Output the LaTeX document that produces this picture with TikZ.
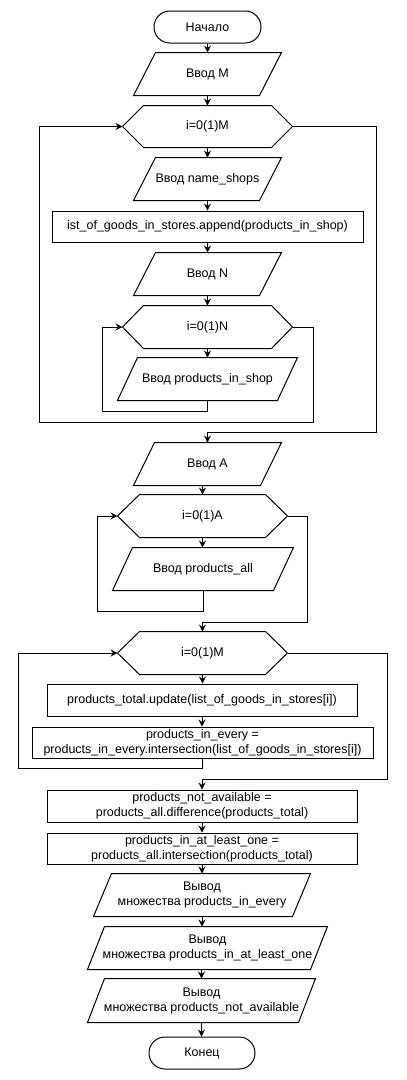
\documentclass[tikz,border=0pt]{standalone}
\usepackage{fontspec}
\setmainfont{Liberation Sans}
\usetikzlibrary{arrows.meta,calc}
\tikzset{
  base/.style={inner sep=0pt, align=center, font=\fontsize{12.5}{15}\selectfont},
  term/.style={base, draw, rounded corners=15.9pt, minimum width=107pt, minimum height=32pt},
  proc/.style={base, draw, minimum height=31pt},
  iobox/.style={base, minimum height=42pt},
  hexbox/.style={base, minimum height=42pt},
  conn/.style={-{Stealth[length=7pt,width=7pt,inset=2.5pt]}},
}
\newcommand\ioshape[2]{%
  \draw ($(#1.north west)+(#2,0)$) -- (#1.north east) -- ($(#1.south east)-(#2,0)$) -- (#1.south west) -- cycle;}
\newcommand\hexshape[2]{%
  \draw (#1.west) -- ($(#1.north west)+(#2,0)$) -- ($(#1.north east)-(#2,0)$) -- (#1.east) -- ($(#1.south east)-(#2,0)$) -- ($(#1.south west)+(#2,0)$) -- cycle;}
\begin{document}
\begin{tikzpicture}[x=1pt,y=-1pt,line width=1pt]
\useasboundingbox (0,0) rectangle (407,1080);
\fill[white] (0,0) rectangle (407,1080);

\node[term] (start) at (207.5,27) {Начало};
\node[iobox, minimum width=147pt] (inM) at (207.5,74) {Ввод M}; \ioshape{inM}{22}
\node[hexbox, minimum width=169pt, minimum height=41pt] (h1) at (207.5,126.5) {i=0(1)M}; \hexshape{h1}{21}
\node[iobox, minimum width=147pt] (inName) at (207.5,179) {Ввод name\_shops}; \ioshape{inName}{22}
\node[proc, minimum width=311pt] (app) at (207.5,226.5) {ist\_of\_goods\_in\_stores.append(products\_in\_shop)};
\node[iobox, minimum width=147pt] (inN) at (207.5,274) {Ввод N}; \ioshape{inN}{22}
\node[hexbox, minimum width=169pt] (h2) at (207.5,327) {i=0(1)N}; \hexshape{h2}{21}
\node[iobox, minimum width=179pt] (inShop) at (207.5,379) {Ввод products\_in\_shop}; \ioshape{inShop}{20}
\node[iobox, minimum width=147pt] (inA) at (207.5,464) {Ввод A}; \ioshape{inA}{21}
\node[hexbox, minimum width=169pt] (hA) at (202.5,516) {i=0(1)A}; \hexshape{hA}{22}
\node[iobox, minimum width=180pt] (inAll) at (203,569) {Ввод products\_all}; \ioshape{inAll}{20}
\node[hexbox, minimum width=169pt] (hM) at (202.5,653) {i=0(1)M}; \hexshape{hM}{22}
\node[proc, minimum width=310pt, minimum height=32pt] (upd) at (202,700) {products\_total.update(list\_of\_goods\_in\_stores[i])};
\node[proc, minimum width=341pt] (every) at (202.5,742.5) {products\_in\_every =\\products\_in\_every.intersection(list\_of\_goods\_in\_stores[i])};
\node[proc, minimum width=310pt, minimum height=32pt] (na) at (202,806) {products\_not\_available =\\products\_all.difference(products\_total)};
\node[proc, minimum width=310pt] (al) at (202,848.5) {products\_in\_at\_least\_one =\\products\_all.intersection(products\_total)};
\node[iobox, minimum width=216pt] (o1) at (202,895) {Вывод\\множества products\_in\_every}; \ioshape{o1}{18}
\node[iobox, minimum width=239pt] (o2) at (207.5,948) {Вывод\\множества products\_in\_at\_least\_one}; \ioshape{o2}{17}
\node[iobox, minimum width=227pt, minimum height=43pt] (o3) at (201.5,1000.5) {Вывод\\множества products\_not\_available}; \ioshape{o3}{17}
\node[term, minimum width=106pt] (end) at (202,1053) {Конец};

\coordinate (cInL) at (102,411);
\coordinate (cR2) at (313,422);
\coordinate (cL1) at (39,422);
\coordinate (cR1) at (376,432);
\coordinate (cAL) at (97,611);
\coordinate (cAR) at (307,622);
\coordinate (cML) at (18,768);
\coordinate (cMR) at (387,779);

\draw[conn] (start.south) -- (inM.north);
\draw[conn] (inM.south) -- (h1.north);
\draw[conn] (h1.south) -- (inName.north);
\draw[conn] (inName.south) -- (app.north);
\draw[conn] (app.south) -- (inN.north);
\draw[conn] (inN.south) -- (h2.north);
\draw[conn] (h2.south) -- (inShop.north);
\draw[conn] (inShop.south) |- (cInL) |- (h2.west);
\draw[conn] (h2.east) -| (cR2) -- (cL1) |- (h1.west);
\draw[conn] (h1.east) -| (cR1) -- (cR1 -| inA.north) -- (inA.north);
\draw[conn] (inA.south -| hA.north) -- (hA.north);
\draw[conn] (hA.south) -- (hA.south |- inAll.north);
\draw[conn] (inAll.south) |- (cAL) |- (hA.west);
\draw[conn] (hA.east) -| (cAR) -- (cAR -| hM.north) -- (hM.north);
\draw[conn] (hM.south) -- (hM.south |- upd.north);
\draw[conn] (upd.south) -- (upd.south |- every.north);
\draw[conn] (every.south -| upd.south) |- (cML) |- (hM.west);
\draw[conn] (hM.east) -| (cMR) -- (cMR -| na.north) -- (na.north);
\draw[conn] (na.south) -- (al.north);
\draw[conn] (al.south) -- (al.south |- o1.north);
\draw[conn] (o1.south) -- (o1.south |- o2.north);
\draw[conn] (o2.south -| o3.north) -- (o3.north);
\draw[conn] (o3.south) -- (o3.south |- end.north);
\end{tikzpicture}
\end{document}
